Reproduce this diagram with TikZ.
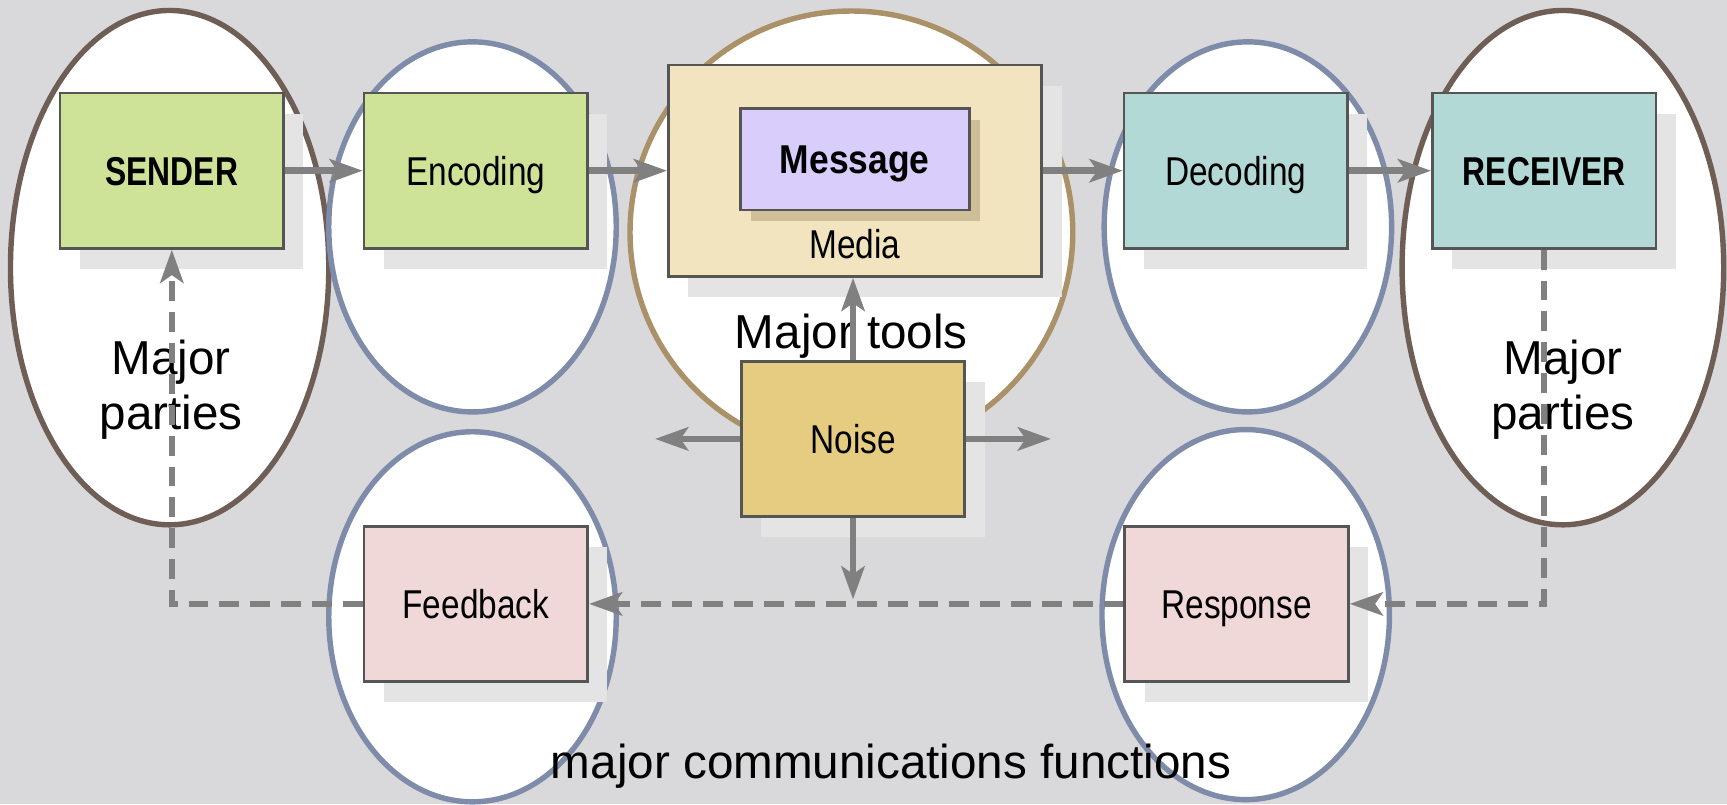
\documentclass[tikz,border=0pt]{standalone}
\usepackage{fontspec}
\setmainfont{Liberation Sans}
\newfontfamily\boxfont[FakeStretch=0.83]{Liberation Sans}
\newfontfamily\boxbold[FakeStretch=0.79]{Liberation Sans}
\newfontfamily\msgfont[FakeStretch=0.88]{Liberation Sans}
\newcommand\boxsize{\fontsize{10.4}{12}\selectfont}
\usetikzlibrary{shapes.geometric,shadows,arrows.meta}
\definecolor{bggray}{RGB}{217,217,219}
\definecolor{partybrown}{RGB}{111,94,86}
\definecolor{funcblue}{RGB}{126,140,170}
\definecolor{tooltan}{RGB}{170,145,103}
\definecolor{boxline}{RGB}{85,85,85}
\definecolor{shadowgray}{RGB}{228,228,228}
\definecolor{msgshadow}{RGB}{206,191,153}
\definecolor{sendgreen}{RGB}{207,227,152}
\definecolor{mediabeige}{RGB}{241,228,190}
\definecolor{msgviolet}{RGB}{216,205,251}
\definecolor{decteal}{RGB}{179,217,215}
\definecolor{noisegold}{RGB}{229,204,128}
\definecolor{fbpink}{RGB}{240,216,216}
\definecolor{arrowgray}{RGB}{128,128,128}
\begin{document}
\begin{tikzpicture}[
    oval/.style={ellipse,fill=white,line width=1.4pt,inner sep=0pt},
    boxbase/.style={draw=boxline,line width=0.7pt,inner sep=0pt,text height=7.4pt,text depth=0pt,font=\boxfont\boxsize},
    box/.style={boxbase,minimum width=2.03cm,minimum height=1.41cm,
        drop shadow={shadow xshift=0.18cm,shadow yshift=-0.19cm,fill=shadowgray,opacity=1}},
    arr/.style={draw=arrowgray,line width=1.7pt,-{Stealth[length=0.3cm,width=0.21cm,inset=0.07cm]}},
    fb/.style={arr,dash pattern=on 0.18cm off 0.1cm},
    big/.style={font=\fontsize{12.3}{14.4}\selectfont,inner sep=0pt}]
    \useasboundingbox (0,0) rectangle (15.68,7.30);
    \fill[bggray] (0,0) rectangle (15.68,7.30);
    \node[oval,draw=partybrown,minimum width=2.89cm,minimum height=4.67cm] (partyL) at (1.54,4.87) {};
    \node[oval,draw=partybrown,minimum width=2.92cm,minimum height=4.67cm] (partyR) at (14.19,4.87) {};
    \node[oval,draw=funcblue,minimum width=2.61cm,minimum height=3.36cm] (encE) at (4.29,5.24) {};
    \node[oval,draw=funcblue,minimum width=2.61cm,minimum height=3.36cm] (decE) at (11.33,5.24) {};
    \node[oval,draw=funcblue,minimum width=2.61cm,minimum height=3.36cm] (fbE) at (4.29,1.70) {};
    \node[oval,draw=funcblue,minimum width=2.61cm,minimum height=3.36cm] (respE) at (11.31,1.72) {};
    \node[circle,fill=white,draw=tooltan,line width=1.4pt,minimum size=4.02cm,inner sep=0pt] (mediaC) at (7.73,5.19) {};
    \node[big,anchor=north,align=center] (partyLT) at (1.555,4.224) {Major\\parties};
    \node[big,anchor=north,align=center] (partyRT) at (14.19,4.224) {Major\\parties};
    \node[big,anchor=base] (toolsT) at (7.73,4.14) {Major tools};
    \node[big,anchor=base] (funcT) at (8.09,0.234) {major communications functions};
    \node[box,fill=sendgreen] (sender) at (1.56,5.75) {\boxbold\bfseries SENDER};
    \node[box,fill=sendgreen] (encoding) at (4.32,5.75) {Encoding};
    \node[box,fill=mediabeige,minimum width=3.39cm,minimum height=1.92cm] (media) at (7.763,5.75) {};
    \node[boxbase,fill=msgviolet,minimum width=2.08cm,minimum height=0.92cm,
        drop shadow={shadow xshift=0.1cm,shadow yshift=-0.1cm,fill=msgshadow,opacity=1}] (message) at (7.76,5.854) {\msgfont\bfseries Message};
    \node[font=\boxfont\boxsize,inner sep=0pt] (mediaT) at (7.76,5.08) {Media};
    \node[box,fill=decteal] (decoding) at (11.22,5.75) {Decoding};
    \node[box,fill=decteal] (receiver) at (14.02,5.75) {\boxbold\bfseries RECEIVER};
    \node[box,fill=noisegold] (noise) at (7.745,3.315) {Noise};
    \node[box,fill=fbpink] (feedback) at (4.32,1.817) {Feedback};
    \node[box,fill=fbpink] (response) at (11.227,1.817) {Response};
    \draw[arr] (sender) -- (encoding);
    \draw[arr] (encoding) -- (media);
    \draw[arr] (media) -- (decoding);
    \draw[arr] (decoding) -- (receiver);
    \draw[arr] (noise.north) -- (noise.north |- media.south);
    \coordinate (nW) at ([xshift=-0.77cm]noise.west);
    \coordinate (nE) at ([xshift=0.77cm]noise.east);
    \coordinate (nS) at ([yshift=-0.74cm]noise.south);
    \draw[arr] (noise.west) -- (nW);
    \draw[arr] (noise.east) -- (nE);
    \draw[arr] (noise.south) -- (nS);
    \coordinate (rTurn) at (receiver.south |- response.east);
    \coordinate (lTurn) at (sender.south |- feedback.west);
    \draw[fb] (receiver.south) -- (rTurn) -- (response.east);
    \draw[fb] (response.west) -- (feedback.east);
    \draw[fb] (feedback.west) -- (lTurn) -- (sender.south);
\end{tikzpicture}
\end{document}
